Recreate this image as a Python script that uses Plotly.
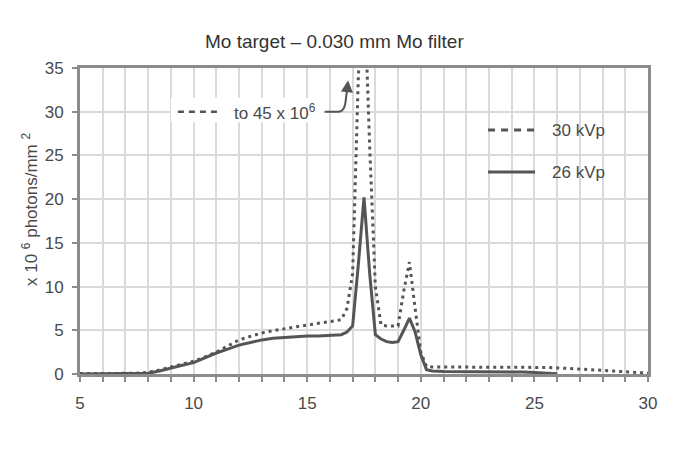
import plotly.graph_objects as go

# ---------------- data ----------------
energy_30 = [5, 5.5, 6, 6.5, 7, 7.5, 8, 8.5, 9, 9.5, 10, 10.5, 11, 11.5, 12, 12.5, 13, 13.5, 14, 14.5,
             15, 15.5, 16, 16.5,
             16.75, 17, 17.25, 17.5, 17.75, 18, 18.25, 18.5, 18.75, 19, 19.25, 19.5, 19.75, 20, 20.25, 20.5,
             21, 21.5, 22, 22.5, 23, 23.5, 24, 24.5, 25, 25.5, 26, 26.5, 27, 27.5, 28, 28.5, 29, 29.5, 30]
flux_30 = [0.05, 0.05, 0.05, 0.05, 0.05, 0.08, 0.2, 0.45, 0.8, 1.1, 1.45, 1.95, 2.5, 3.2, 3.9, 4.3, 4.7, 4.95,
           5.2, 5.4, 5.6, 5.8, 6.0, 6.2,
           7.5, 11.5, 34, 45, 26, 10, 5.6, 5.5, 5.5, 5.5, 9.5, 12.8, 7.5, 2.5, 0.85, 0.8,
           0.8, 0.8, 0.8, 0.8, 0.8, 0.8, 0.8, 0.8, 0.78, 0.75, 0.7, 0.65, 0.58, 0.5, 0.42, 0.33, 0.25, 0.17, 0.1]

energy_26 = [5, 5.5, 6, 6.5, 7, 7.5, 8, 8.5, 9, 9.5, 10, 10.5, 11, 11.5, 12, 12.5, 13, 13.5, 14, 14.5,
             15, 15.5, 16, 16.5,
             16.75, 17, 17.25, 17.5, 17.75, 18, 18.25, 18.5, 18.75, 19, 19.25, 19.5, 19.75, 20, 20.25, 20.5,
             21, 21.5, 22, 22.5, 23, 23.5, 24, 24.5, 25, 25.5, 26]
flux_26 = [0, 0, 0, 0, 0, 0.02, 0.08, 0.35, 0.7, 1.0, 1.3, 1.85, 2.4, 2.85, 3.3, 3.6, 3.9, 4.1, 4.2, 4.3,
           4.35, 4.35, 4.4, 4.5,
           4.8, 5.5, 12.5, 20.2, 11.5, 4.5, 4.0, 3.7, 3.6, 3.7, 5.0, 6.4, 4.8, 2.2, 0.5, 0.35,
           0.3, 0.3, 0.3, 0.3, 0.3, 0.28, 0.25, 0.22, 0.18, 0.1, 0.02]

series_names = ["30 kVp", "26 kVp"]
title_text = "Mo target \u2013 0.030 mm Mo filter"
y_title = "x 10 <sup>6</sup> photons/mm <sup>2</sup>"
note_text = "to 45 x 10<sup>6</sup>"
x_ticks = [5, 10, 15, 20, 25, 30]
y_ticks = [0, 5, 10, 15, 20, 25, 30, 35]

# ---------------- styling ----------------
INK = "#4a4a4a"
LINE = "#555555"
FONT = "Liberation Sans, Arial, sans-serif"

# the page adds an 8px body margin, so the figure is sized to fit the 675x452 window
OFF = 8
W, H = 675 - OFF, 452 - OFF
PLOT_L, PLOT_R, PLOT_T, PLOT_B = 80, 648, 68, 374          # screen pixels of the plot frame
ML, MR = PLOT_L - OFF, W - (PLOT_R - OFF)
MT, MB = PLOT_T - OFF, H - (PLOT_B - OFF)
PW, PH = PLOT_R - PLOT_L, PLOT_B - PLOT_T


def px_x(px):
    return (px - PLOT_L) / PW


def px_y(py):
    return (PLOT_B - py) / PH


fig = go.Figure()
fig.add_trace(go.Scatter(x=energy_30, y=flux_30, mode="lines", name=series_names[0],
                         line=dict(color=LINE, width=3, dash="3px,4px"), showlegend=False))
fig.add_trace(go.Scatter(x=energy_26, y=flux_26, mode="lines", name=series_names[1],
                         line=dict(color=LINE, width=3), showlegend=False))

shapes = [
    # white box behind the off-scale note
    dict(type="rect", xref="x", yref="y", x0=9.0, x1=15.7, y0=28.8, y1=31.6,
         fillcolor="white", line=dict(width=0), layer="above"),
    dict(type="line", xref="x", yref="y", x0=9.31, x1=11.16, y0=30, y1=30,
         line=dict(color=LINE, width=2.5, dash="6px,5px")),
    dict(type="path", xref="x", yref="y", path="M 15.78 30 L 16.38 30 Q 16.66 30 16.7 31.4 L 16.74 32.2",
         line=dict(color=LINE, width=2)),
    # legend samples
    dict(type="line", xref="x", yref="y", x0=22.96, x1=25.03, y0=27.9, y1=27.9,
         line=dict(color=LINE, width=3, dash="7px,6px")),
    dict(type="line", xref="x", yref="y", x0=22.96, x1=25.03, y0=23.1, y1=23.1,
         line=dict(color=LINE, width=3)),
]

annotations = [
    dict(text=title_text, xref="paper", yref="paper", x=px_x(334), y=px_y(41), showarrow=False,
         xanchor="center", yanchor="middle", font=dict(size=19, color="#333333", family=FONT)),
    dict(text=y_title, xref="paper", yref="paper", x=px_x(30), y=px_y(210), showarrow=False,
         textangle=-90, xanchor="center", yanchor="middle", font=dict(size=17, color=INK, family=FONT)),
    dict(text=note_text, xref="x", yref="y", x=13.58, y=30, showarrow=False,
         xanchor="center", yanchor="middle", font=dict(size=17, color=INK, family=FONT)),
    dict(text="", xref="x", yref="y", x=16.8, y=33.6, ax=16.74, ay=32.0, axref="x", ayref="y",
         showarrow=True, arrowhead=2, arrowsize=1.2, arrowwidth=2, arrowcolor=LINE),
    dict(text=series_names[0], xref="x", yref="y", x=25.69, y=27.9, showarrow=False,
         xanchor="left", yanchor="middle", font=dict(size=17, color=INK, family=FONT)),
    dict(text=series_names[1], xref="x", yref="y", x=25.69, y=23.1, showarrow=False,
         xanchor="left", yanchor="middle", font=dict(size=17, color=INK, family=FONT)),
]

fig.update_layout(
    width=W, height=H,
    margin=dict(l=ML, r=MR, t=MT, b=MB),
    paper_bgcolor="white",
    plot_bgcolor="white",
    font=dict(family=FONT, size=17, color=INK),
    showlegend=False,
    shapes=shapes,
    annotations=annotations,
    xaxis=dict(range=[5, 30], tickvals=x_ticks, ticks="outside", ticklen=5, tickwidth=1.5,
               tickcolor="#8c8c8c", showgrid=True, gridcolor="#dadada", gridwidth=1.5,
               showline=True, mirror=True, linecolor="#8c8c8c", linewidth=3,
               zeroline=False, ticklabelstandoff=7,
               minor=dict(dtick=1, ticks="outside", ticklen=5, tickcolor="#8c8c8c",
                          showgrid=True, gridcolor="#dadada", gridwidth=1.5)),
    yaxis=dict(range=[0, 35], tickvals=y_ticks, ticks="outside", ticklen=5, tickwidth=1.5,
               tickcolor="#8c8c8c", showgrid=True, gridcolor="#dadada", gridwidth=1.5,
               showline=True, mirror=True, linecolor="#8c8c8c", linewidth=3,
               zeroline=False, ticklabelstandoff=5),
)

fig.write_html("out.html")
